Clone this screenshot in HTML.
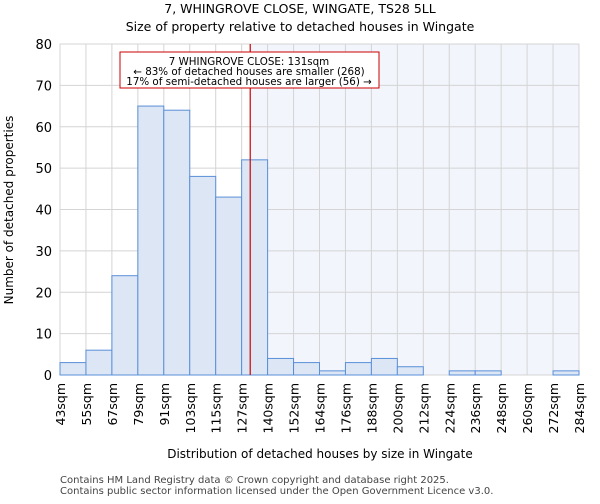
<!DOCTYPE html>
<html><head><meta charset="utf-8"><style>
body{margin:0;background:#fff;font-family:"DejaVu Sans","Liberation Sans",sans-serif}
</style></head><body>
<svg width="600" height="500" xmlns="http://www.w3.org/2000/svg" font-family="DejaVu Sans, Liberation Sans, sans-serif">
<text x="300" y="13" text-anchor="middle" font-size="12.5">7, WHINGROVE CLOSE, WINGATE, TS28 5LL</text>
<text x="300" y="31" text-anchor="middle" font-size="12.5">Size of property relative to detached houses in Wingate</text>
<g id="plot"></g>
<text x="320" y="458" text-anchor="middle" font-size="12">Distribution of detached houses by size in Wingate</text>
<text transform="translate(13,210) rotate(-90)" text-anchor="middle" font-size="12">Number of detached properties</text>
<text x="60" y="483" font-size="10" fill="#444">Contains HM Land Registry data © Crown copyright and database right 2025.</text>
<text x="60" y="494" font-size="10" fill="#444">Contains public sector information licensed under the Open Government Licence v3.0.</text>
</svg>
<script>
const labels=["43sqm","55sqm","67sqm","79sqm","91sqm","103sqm","115sqm","127sqm","140sqm","152sqm","164sqm","176sqm","188sqm","200sqm","212sqm","224sqm","236sqm","248sqm","260sqm","272sqm","284sqm"];
const counts=[3,6,24,65,64,48,43,52,4,3,1,3,4,2,0,1,1,0,0,1];
const yTicks=[0,10,20,30,40,50,60,70,80];
const markerBin=7.33;
const NS="http://www.w3.org/2000/svg";
const L=60,R=579,T=44,B=375;
const bw=(R-L)/counts.length;
const xs=i=>L+i*bw, ys=v=>B-(v/80)*(B-T);
const g=document.getElementById('plot');
function mk(t,a){const e=document.createElementNS(NS,t);for(const k in a)e.setAttribute(k,a[k]);g.appendChild(e);return e;}
const mx=xs(markerBin);
let e=mk('rect',{x:mx,y:T,width:R-mx,height:B-T,fill:'#f2f5fc'});

yTicks.forEach(v=>{let l=mk('line',{x1:L,x2:R,y1:ys(v),y2:ys(v),stroke:'#d4d4d4'});

let t=mk('text',{x:L-8,y:ys(v)+5,'text-anchor':'end','font-size':'13'});t.textContent=v;
});
labels.forEach((s,i)=>{let l=mk('line',{x1:xs(i),x2:xs(i),y1:T,y2:B,stroke:'#d4d4d4'});

let t=mk('text',{transform:`translate(${xs(i)+5},${B+8}) rotate(-90)`,'text-anchor':'end','font-size':'12.5'});t.textContent=s;
});
counts.forEach((v,i)=>{if(!v)return;let r=mk('rect',{x:xs(i),y:ys(v),width:bw,height:B-ys(v),fill:'#dce6f5',stroke:'#5a8fd8','stroke-width':'1'});
});
e=mk('line',{x1:mx,x2:mx,y1:T,y2:B,stroke:'#cc0000','stroke-width':'1.2'});

e=mk('rect',{x:120,y:52,width:259,height:36,fill:'#fff',stroke:'#cc0000'});

[["7 WHINGROVE CLOSE: 131sqm",62],["← 83% of detached houses are smaller (268)",72],["17% of semi-detached houses are larger (56) →",82]].forEach(([s,y])=>{
let t=mk('text',{x:249,y:y+3,'text-anchor':'middle','font-size':'10.3'});t.textContent=s;
});
</script>
</body></html>
